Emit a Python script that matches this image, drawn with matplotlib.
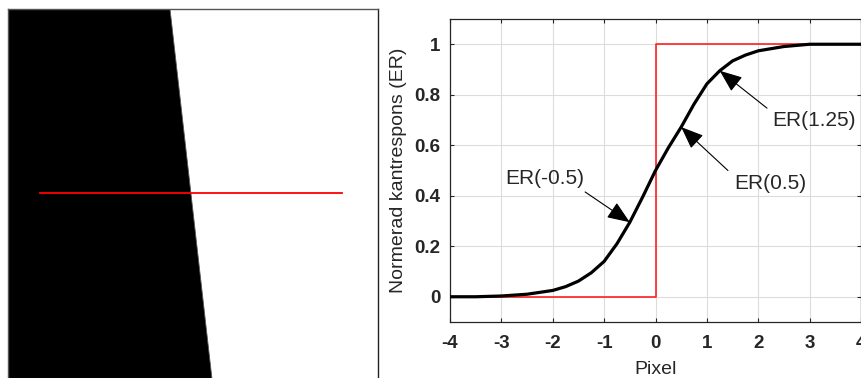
import matplotlib
matplotlib.use("Agg")
import matplotlib.pyplot as plt
from matplotlib.patches import Polygon

plt.rcParams['font.family'] = ['Liberation Sans', 'DejaVu Sans']

# ---- data ----
pixel_x = [-4, -3.5, -3, -2.5, -2, -1.75, -1.5, -1.25, -1, -0.75, -0.5, -0.25,
           0, 0.25, 0.5, 0.75, 1, 1.25, 1.5, 1.75, 2, 2.5, 3, 3.5, 4]
edge_response = [0.0, 0.0, 0.003, 0.01, 0.025, 0.04, 0.062, 0.095, 0.14, 0.21, 0.295, 0.395,
                 0.5, 0.59, 0.672, 0.763, 0.843, 0.895, 0.934, 0.957, 0.974, 0.991, 1.0, 1.0, 1.0]
ideal_x = [-4, 0, 0, 4]
ideal_y = [0, 0, 1, 1]

annot_labels = ['ER(-0.5)', 'ER(0.5)', 'ER(1.25)']
annot_tip = [(-0.5, 0.295), (0.5, 0.672), (1.25, 0.895)]
annot_tail = [(-1.37, 0.415), (1.41, 0.50), (2.17, 0.747)]
annot_text = [(-2.15, 0.47), (2.24, 0.45), (3.08, 0.70)]

x_ticks = [-4, -3, -2, -1, 0, 1, 2, 3, 4]
x_ticklabels = ['-4', '-3', '-2', '-1', '0', '1', '2', '3', '4']
y_ticks = [0, 0.2, 0.4, 0.6, 0.8, 1]
y_ticklabels = ['0', '0.2', '0.4', '0.6', '0.8', '1']

# left image (pixel coordinates of the edge picture)
img_size = 370
edge_top_x = 162
edge_bottom_x = 204
profile_row = 184
profile_x = [32, 334]

fig = plt.figure(figsize=(8.62, 3.78), dpi=100)

# ---- left image ----
axL = fig.add_axes([8/862, 0, 370/862, 369/378])
axL.set_xlim(0, img_size)
axL.set_ylim(369, 0)
axL.add_patch(Polygon([(0, 0), (edge_top_x, 0), (edge_bottom_x, img_size), (0, img_size)],
                      closed=True, facecolor='black', edgecolor='#555555', lw=0.6))
axL.plot(profile_x, [profile_row, profile_row], color='red', lw=1.3)
axL.set_xticks([]); axL.set_yticks([])
for s in ['left', 'top']:
    axL.spines[s].set_color('#555555')
axL.spines['right'].set_color('#222222')
axL.spines['bottom'].set_visible(False)
for s in axL.spines.values():
    s.set_linewidth(1.0)

# ---- right plot ----
ax = fig.add_axes([450/862, 56/378, 411/862, 303/378])
ax.plot(ideal_x, ideal_y, color='#ff2020', lw=1.2, zorder=3)
ax.plot(pixel_x, edge_response, color='black', lw=2.3, zorder=4, solid_capstyle='butt')
ax.set_xlim(-4, 4)
ax.set_ylim(-0.1, 1.1)
ax.set_xticks(x_ticks)
ax.set_xticklabels(x_ticklabels)
ax.set_yticks(y_ticks)
ax.set_yticklabels(y_ticklabels)
ax.grid(True, color='#dcdcdc', lw=0.8)
ax.set_axisbelow(True)
ax.tick_params(direction='in', length=3, width=0.8, top=True, right=True,
               colors='#262626', labelsize=13.5, pad=7)
for lab in ax.get_xticklabels() + ax.get_yticklabels():
    lab.set_fontweight('bold')
ax.tick_params(axis='x', pad=9)
for s in ax.spines.values():
    s.set_color('#262626')
    s.set_linewidth(0.9)
ax.set_xlabel('Pixel', fontsize=14, color='#262626', labelpad=7)
ax.set_ylabel('Normerad kantrespons (ER)', fontsize=14, color='#262626', labelpad=5)

for lab, tip, tail, tpos in zip(annot_labels, annot_tip, annot_tail, annot_text):
    ax.annotate('', xy=tip, xytext=tail,
                arrowprops=dict(arrowstyle='-|>,head_length=1.0,head_width=0.4',
                                color='black', lw=0.8, mutation_scale=14,
                                shrinkA=0, shrinkB=0), zorder=5)
    ax.text(tpos[0], tpos[1], lab, fontsize=15, color='#262626',
            ha='center', va='center', zorder=5)

fig.savefig('out.png', dpi=100)
